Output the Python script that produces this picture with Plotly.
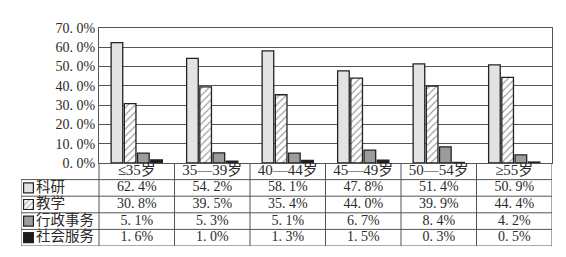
import plotly.graph_objects as go

categories = ["≤35岁", "35—39岁", "40—44岁", "45—49岁", "50—54岁", "≥55岁"]
series_names = ["科研", "教学", "行政事务", "社会服务"]
keyan = [62.4, 54.2, 58.1, 47.8, 51.4, 50.9]
jiaoxue = [30.8, 39.5, 35.4, 44.0, 39.9, 44.4]
xingzheng = [5.1, 5.3, 5.1, 6.7, 8.4, 4.2]
shehui = [1.6, 1.0, 1.3, 1.5, 0.3, 0.5]
y_ticks = [0, 10, 20, 30, 40, 50, 60, 70]

series_values = [keyan, jiaoxue, xingzheng, shehui]
fills = ["#e3e3e3", "#ffffff", "#9c9c9c", "#1c1c1c"]
patterns = ["", "/", "", ""]
edge = "#222222"
grid = "#555555"
txt = "#2a2a2a"
num_font = "Liberation Serif, Noto Sans CJK SC"

def fmt(v):
    return f"{v:.1f}%".replace(".", ". ")

W, H = 566, 257
ml, mr, mt, mb = 21, 14, 28, 11
pw = W - ml - mr          # 531
ph = H - mt - mb          # 218
chart_left = 99
col_w = (W - mr - chart_left) / 6
x_dom0 = (chart_left - ml) / pw
y_split = (246 - 163) / ph
x2_min = -0.5 - (chart_left - ml) / col_w

fig = go.Figure()
xs = list(range(len(categories)))

for name, vals, fc, pat in zip(series_names, series_values, fills, patterns):
    fig.add_trace(go.Bar(
        x=xs, y=vals, name=name, showlegend=False,
        marker=dict(color=fc, line=dict(color=edge, width=1.3),
                    pattern=dict(shape=pat, fgcolor="#333333", bgcolor="#ffffff",
                                 size=5, solidity=0.22)),
        xaxis="x", yaxis="y",
    ))

# legend swatches in the table (left column)
sw_x = x2_min + (28.5 - ml) / col_w
for i, (name, fc, pat) in enumerate(zip(series_names, fills, patterns)):
    r = i + 1
    fig.add_trace(go.Bar(
        x=[sw_x], y=[0.6], base=[r - 0.3], width=0.13, offset=-0.065,
        showlegend=False, hoverinfo="skip",
        marker=dict(color=fc, line=dict(color=edge, width=1.2),
                    pattern=dict(shape=pat, fgcolor="#333333", bgcolor="#ffffff",
                                 size=4, solidity=0.25)),
        xaxis="x2", yaxis="y2",
    ))

# legend names
name_x = x2_min + (36 - ml) / col_w
fig.add_trace(go.Scatter(
    x=[name_x] * 4, y=[1, 2, 3, 4], text=series_names, mode="text",
    textposition="middle right", textfont=dict(family=num_font, size=14.5, color=txt),
    showlegend=False, hoverinfo="skip", xaxis="x2", yaxis="y2", cliponaxis=False,
))

# header row: category labels
fig.add_trace(go.Scatter(
    x=xs, y=[0] * 6, text=categories, mode="text", textposition="middle center",
    textfont=dict(family=num_font, size=15, color=txt),
    showlegend=False, hoverinfo="skip", xaxis="x2", yaxis="y2", cliponaxis=False,
))

# value rows
for i, vals in enumerate(series_values):
    fig.add_trace(go.Scatter(
        x=xs, y=[i + 1] * 6, text=[fmt(v) for v in vals], mode="text",
        textposition="middle center",
        textfont=dict(family=num_font, size=14, color=txt),
        showlegend=False, hoverinfo="skip", xaxis="x2", yaxis="y2", cliponaxis=False,
    ))

shapes = []
lw = 1
for k in range(7):
    shapes.append(dict(type="line", xref="x2", yref="y2", x0=k - 0.5, x1=k - 0.5,
                       y0=-0.5, y1=4.5, line=dict(color=grid, width=lw)))
shapes.append(dict(type="line", xref="x2", yref="y2", x0=x2_min, x1=x2_min,
                   y0=0.5, y1=4.5, line=dict(color=grid, width=lw)))
for r in range(5):
    shapes.append(dict(type="line", xref="x2", yref="y2", x0=x2_min, x1=5.5,
                       y0=r + 0.5, y1=r + 0.5, line=dict(color=grid, width=lw)))

fig.update_layout(
    width=W, height=H, autosize=False,
    margin=dict(l=ml, r=mr, t=mt, b=mb, pad=0, autoexpand=False),
    paper_bgcolor="white", plot_bgcolor="white",
    barmode="group", bargap=0.3, bargroupgap=0.12,
    shapes=shapes,
    xaxis=dict(domain=[x_dom0, 1], range=[-0.5, 5.5], showticklabels=False,
               showgrid=False, zeroline=False, showline=True, linecolor=grid,
               linewidth=1, mirror=True, ticks="", fixedrange=True, automargin=False),
    yaxis=dict(domain=[y_split, 1], range=[0, 70], tickvals=y_ticks,
               ticktext=[fmt(v) for v in y_ticks], showgrid=True, gridcolor=grid,
               gridwidth=1, zeroline=False, showline=True, linecolor=grid,
               linewidth=1, mirror=True, ticks="", ticklen=0, automargin=False,
               tickfont=dict(family=num_font, size=14, color=txt), fixedrange=True),
    xaxis2=dict(domain=[0, 1], range=[x2_min, 5.5], visible=False, anchor="y2",
                fixedrange=True, automargin=False),
    yaxis2=dict(domain=[0, y_split], range=[4.5, -0.5], visible=False, anchor="x2",
                fixedrange=True, automargin=False),
)

fig.write_html("out.html")
